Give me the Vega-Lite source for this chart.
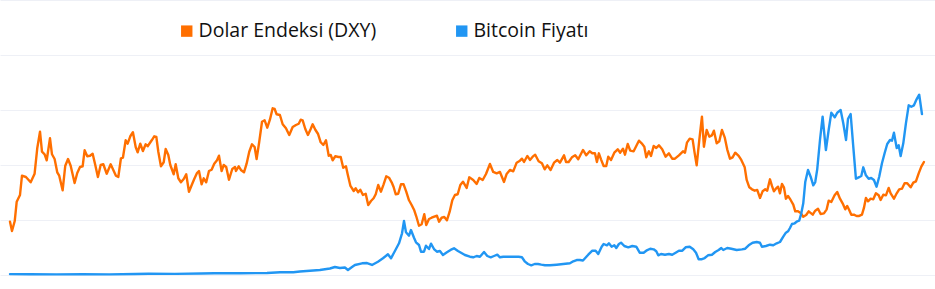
{
  "$schema": "https://vega.github.io/schema/vega-lite/v6.json",
  "width": 935,
  "height": 275,
  "autosize": {"type": "none"},
  "padding": {"top": 0, "left": 0, "right": 0, "bottom": 14},
  "background": "#ffffff",
  "config": {"view": {"stroke": null}},
  "datasets": {
    "dxy": [
      {"yil": 2014.947, "dxy": 88.66}, {"yil": 2014.962, "dxy": 87.5}, {"yil": 2014.983, "dxy": 88.75}, {"yil": 2014.998, "dxy": 91.16},
      {"yil": 2015.023, "dxy": 92.0}, {"yil": 2015.038, "dxy": 94.41}, {"yil": 2015.068, "dxy": 94.25}, {"yil": 2015.104, "dxy": 93.59},
      {"yil": 2015.134, "dxy": 94.66}, {"yil": 2015.154, "dxy": 97.84}, {"yil": 2015.175, "dxy": 99.91}, {"yil": 2015.190, "dxy": 97.41},
      {"yil": 2015.210, "dxy": 97.09}, {"yil": 2015.226, "dxy": 96.34}, {"yil": 2015.251, "dxy": 99.09}, {"yil": 2015.266, "dxy": 97.09},
      {"yil": 2015.286, "dxy": 96.5}, {"yil": 2015.306, "dxy": 94.84}, {"yil": 2015.321, "dxy": 94.41}, {"yil": 2015.347, "dxy": 92.59},
      {"yil": 2015.367, "dxy": 95.66}, {"yil": 2015.388, "dxy": 96.5}, {"yil": 2015.408, "dxy": 95.66}, {"yil": 2015.438, "dxy": 93.5},
      {"yil": 2015.458, "dxy": 94.75}, {"yil": 2015.479, "dxy": 95.5}, {"yil": 2015.499, "dxy": 95.59}, {"yil": 2015.514, "dxy": 97.59},
      {"yil": 2015.534, "dxy": 96.84}, {"yil": 2015.555, "dxy": 96.91}, {"yil": 2015.575, "dxy": 97.16}, {"yil": 2015.595, "dxy": 95.75},
      {"yil": 2015.615, "dxy": 94.25}, {"yil": 2015.636, "dxy": 95.75}, {"yil": 2015.656, "dxy": 95.84}, {"yil": 2015.682, "dxy": 94.66},
      {"yil": 2015.712, "dxy": 95.84}, {"yil": 2015.752, "dxy": 94.41}, {"yil": 2015.770, "dxy": 94.25}, {"yil": 2015.790, "dxy": 96.59},
      {"yil": 2015.805, "dxy": 96.66}, {"yil": 2015.826, "dxy": 98.84}, {"yil": 2015.841, "dxy": 98.41}, {"yil": 2015.861, "dxy": 99.34},
      {"yil": 2015.881, "dxy": 99.84}, {"yil": 2015.902, "dxy": 98.0}, {"yil": 2015.917, "dxy": 97.34}, {"yil": 2015.937, "dxy": 98.41},
      {"yil": 2015.957, "dxy": 97.5}, {"yil": 2015.978, "dxy": 98.34}, {"yil": 2015.993, "dxy": 98.09}, {"yil": 2016.024, "dxy": 98.84},
      {"yil": 2016.043, "dxy": 99.34}, {"yil": 2016.059, "dxy": 99.25}, {"yil": 2016.074, "dxy": 97.41}, {"yil": 2016.094, "dxy": 95.59},
      {"yil": 2016.115, "dxy": 96.09}, {"yil": 2016.130, "dxy": 97.75}, {"yil": 2016.150, "dxy": 97.0}, {"yil": 2016.165, "dxy": 95.75},
      {"yil": 2016.191, "dxy": 94.59}, {"yil": 2016.206, "dxy": 95.84}, {"yil": 2016.226, "dxy": 94.09}, {"yil": 2016.246, "dxy": 93.59},
      {"yil": 2016.267, "dxy": 94.0}, {"yil": 2016.286, "dxy": 94.59}, {"yil": 2016.307, "dxy": 92.41}, {"yil": 2016.328, "dxy": 93.25},
      {"yil": 2016.347, "dxy": 94.0}, {"yil": 2016.368, "dxy": 94.75}, {"yil": 2016.383, "dxy": 95.0}, {"yil": 2016.403, "dxy": 93.34},
      {"yil": 2016.419, "dxy": 94.09}, {"yil": 2016.438, "dxy": 93.59}, {"yil": 2016.459, "dxy": 95.0}, {"yil": 2016.479, "dxy": 95.16},
      {"yil": 2016.499, "dxy": 95.91}, {"yil": 2016.520, "dxy": 96.34}, {"yil": 2016.535, "dxy": 96.91}, {"yil": 2016.555, "dxy": 95.0},
      {"yil": 2016.571, "dxy": 95.75}, {"yil": 2016.590, "dxy": 95.5}, {"yil": 2016.611, "dxy": 93.91}, {"yil": 2016.636, "dxy": 95.25},
      {"yil": 2016.657, "dxy": 95.5}, {"yil": 2016.664, "dxy": 95.0}, {"yil": 2016.685, "dxy": 95.59}, {"yil": 2016.704, "dxy": 95.09},
      {"yil": 2016.725, "dxy": 94.84}, {"yil": 2016.745, "dxy": 95.91}, {"yil": 2016.765, "dxy": 97.41}, {"yil": 2016.786, "dxy": 98.34},
      {"yil": 2016.806, "dxy": 98.0}, {"yil": 2016.821, "dxy": 96.5}, {"yil": 2016.841, "dxy": 98.66}, {"yil": 2016.862, "dxy": 101.16},
      {"yil": 2016.882, "dxy": 101.34}, {"yil": 2016.902, "dxy": 100.41}, {"yil": 2016.922, "dxy": 101.41}, {"yil": 2016.943, "dxy": 102.84},
      {"yil": 2016.958, "dxy": 102.75}, {"yil": 2016.973, "dxy": 102.09}, {"yil": 2016.998, "dxy": 102.0}, {"yil": 2017.019, "dxy": 100.84},
      {"yil": 2017.044, "dxy": 100.34}, {"yil": 2017.069, "dxy": 99.5}, {"yil": 2017.095, "dxy": 100.5}, {"yil": 2017.120, "dxy": 100.75},
      {"yil": 2017.141, "dxy": 100.91}, {"yil": 2017.156, "dxy": 101.41}, {"yil": 2017.171, "dxy": 101.34}, {"yil": 2017.191, "dxy": 100.25},
      {"yil": 2017.211, "dxy": 99.5}, {"yil": 2017.232, "dxy": 100.25}, {"yil": 2017.247, "dxy": 100.84}, {"yil": 2017.267, "dxy": 100.16},
      {"yil": 2017.287, "dxy": 99.66}, {"yil": 2017.308, "dxy": 98.59}, {"yil": 2017.328, "dxy": 98.25}, {"yil": 2017.348, "dxy": 98.84},
      {"yil": 2017.369, "dxy": 96.91}, {"yil": 2017.384, "dxy": 97.0}, {"yil": 2017.399, "dxy": 96.34}, {"yil": 2017.419, "dxy": 96.84},
      {"yil": 2017.444, "dxy": 96.75}, {"yil": 2017.460, "dxy": 96.75}, {"yil": 2017.479, "dxy": 95.41}, {"yil": 2017.500, "dxy": 95.59},
      {"yil": 2017.513, "dxy": 94.59}, {"yil": 2017.534, "dxy": 93.13}, {"yil": 2017.559, "dxy": 92.5}, {"yil": 2017.574, "dxy": 92.84},
      {"yil": 2017.593, "dxy": 92.34}, {"yil": 2017.609, "dxy": 92.66}, {"yil": 2017.629, "dxy": 92.0}, {"yil": 2017.650, "dxy": 92.16},
      {"yil": 2017.669, "dxy": 90.75}, {"yil": 2017.690, "dxy": 91.25}, {"yil": 2017.710, "dxy": 91.59}, {"yil": 2017.726, "dxy": 92.09},
      {"yil": 2017.745, "dxy": 93.25}, {"yil": 2017.766, "dxy": 92.41}, {"yil": 2017.786, "dxy": 93.34}, {"yil": 2017.806, "dxy": 94.34},
      {"yil": 2017.827, "dxy": 94.16}, {"yil": 2017.847, "dxy": 93.59}, {"yil": 2017.862, "dxy": 93.0}, {"yil": 2017.878, "dxy": 92.09},
      {"yil": 2017.897, "dxy": 92.16}, {"yil": 2017.918, "dxy": 93.34}, {"yil": 2017.938, "dxy": 93.34}, {"yil": 2017.958, "dxy": 92.41},
      {"yil": 2017.979, "dxy": 91.34}, {"yil": 2017.999, "dxy": 90.75}, {"yil": 2018.019, "dxy": 90.09}, {"yil": 2018.034, "dxy": 89.34},
      {"yil": 2018.055, "dxy": 88.16}, {"yil": 2018.075, "dxy": 88.34}, {"yil": 2018.095, "dxy": 89.59}, {"yil": 2018.110, "dxy": 88.25},
      {"yil": 2018.131, "dxy": 89.0}, {"yil": 2018.151, "dxy": 89.16}, {"yil": 2018.176, "dxy": 89.34}, {"yil": 2018.191, "dxy": 89.41},
      {"yil": 2018.207, "dxy": 88.66}, {"yil": 2018.227, "dxy": 89.16}, {"yil": 2018.247, "dxy": 89.25}, {"yil": 2018.267, "dxy": 88.84},
      {"yil": 2018.288, "dxy": 89.91}, {"yil": 2018.308, "dxy": 91.34}, {"yil": 2018.328, "dxy": 92.0}, {"yil": 2018.349, "dxy": 92.09},
      {"yil": 2018.369, "dxy": 93.25}, {"yil": 2018.389, "dxy": 93.66}, {"yil": 2018.417, "dxy": 92.88}, {"yil": 2018.437, "dxy": 94.21},
      {"yil": 2018.467, "dxy": 93.88}, {"yil": 2018.493, "dxy": 93.38}, {"yil": 2018.513, "dxy": 94.13}, {"yil": 2018.539, "dxy": 93.88},
      {"yil": 2018.564, "dxy": 94.63}, {"yil": 2018.594, "dxy": 95.88}, {"yil": 2018.619, "dxy": 94.88}, {"yil": 2018.645, "dxy": 94.71},
      {"yil": 2018.670, "dxy": 94.88}, {"yil": 2018.701, "dxy": 93.63}, {"yil": 2018.721, "dxy": 94.63}, {"yil": 2018.746, "dxy": 95.13},
      {"yil": 2018.771, "dxy": 94.96}, {"yil": 2018.797, "dxy": 96.04}, {"yil": 2018.822, "dxy": 96.29}, {"yil": 2018.837, "dxy": 96.54},
      {"yil": 2018.853, "dxy": 96.13}, {"yil": 2018.878, "dxy": 96.88}, {"yil": 2018.898, "dxy": 96.38}, {"yil": 2018.919, "dxy": 96.79},
      {"yil": 2018.938, "dxy": 97.04}, {"yil": 2018.964, "dxy": 96.21}, {"yil": 2018.989, "dxy": 95.96}, {"yil": 2019.010, "dxy": 95.21},
      {"yil": 2019.030, "dxy": 95.71}, {"yil": 2019.055, "dxy": 95.13}, {"yil": 2019.081, "dxy": 96.04}, {"yil": 2019.106, "dxy": 96.38},
      {"yil": 2019.126, "dxy": 96.04}, {"yil": 2019.157, "dxy": 96.96}, {"yil": 2019.172, "dxy": 96.13}, {"yil": 2019.192, "dxy": 96.13},
      {"yil": 2019.217, "dxy": 96.71}, {"yil": 2019.242, "dxy": 96.96}, {"yil": 2019.265, "dxy": 96.46}, {"yil": 2019.301, "dxy": 97.63},
      {"yil": 2019.326, "dxy": 96.96}, {"yil": 2019.352, "dxy": 97.46}, {"yil": 2019.372, "dxy": 97.21}, {"yil": 2019.392, "dxy": 97.21},
      {"yil": 2019.407, "dxy": 96.13}, {"yil": 2019.422, "dxy": 97.21}, {"yil": 2019.438, "dxy": 96.46}, {"yil": 2019.458, "dxy": 95.63},
      {"yil": 2019.478, "dxy": 95.63}, {"yil": 2019.493, "dxy": 96.79}, {"yil": 2019.514, "dxy": 96.38}, {"yil": 2019.539, "dxy": 97.29},
      {"yil": 2019.565, "dxy": 97.71}, {"yil": 2019.584, "dxy": 97.29}, {"yil": 2019.605, "dxy": 97.79}, {"yil": 2019.620, "dxy": 97.04},
      {"yil": 2019.641, "dxy": 98.38}, {"yil": 2019.660, "dxy": 97.54}, {"yil": 2019.686, "dxy": 97.46}, {"yil": 2019.706, "dxy": 98.13},
      {"yil": 2019.726, "dxy": 98.79}, {"yil": 2019.747, "dxy": 98.46}, {"yil": 2019.767, "dxy": 98.04}, {"yil": 2019.782, "dxy": 96.71},
      {"yil": 2019.802, "dxy": 97.46}, {"yil": 2019.818, "dxy": 96.88}, {"yil": 2019.838, "dxy": 98.13}, {"yil": 2019.858, "dxy": 97.88},
      {"yil": 2019.878, "dxy": 98.21}, {"yil": 2019.903, "dxy": 97.71}, {"yil": 2019.929, "dxy": 96.79}, {"yil": 2019.954, "dxy": 97.21},
      {"yil": 2019.979, "dxy": 96.54}, {"yil": 2020.000, "dxy": 96.54}, {"yil": 2020.030, "dxy": 96.96}, {"yil": 2020.061, "dxy": 97.46},
      {"yil": 2020.076, "dxy": 97.29}, {"yil": 2020.091, "dxy": 98.54}, {"yil": 2020.112, "dxy": 99.04}, {"yil": 2020.134, "dxy": 98.96},
      {"yil": 2020.150, "dxy": 97.21}, {"yil": 2020.165, "dxy": 95.71}, {"yil": 2020.185, "dxy": 98.88}, {"yil": 2020.205, "dxy": 101.79},
      {"yil": 2020.220, "dxy": 98.04}, {"yil": 2020.241, "dxy": 100.13}, {"yil": 2020.261, "dxy": 99.29}, {"yil": 2020.281, "dxy": 99.46},
      {"yil": 2020.296, "dxy": 100.04}, {"yil": 2020.317, "dxy": 98.46}, {"yil": 2020.337, "dxy": 98.71}, {"yil": 2020.357, "dxy": 100.13},
      {"yil": 2020.378, "dxy": 99.21}, {"yil": 2020.397, "dxy": 97.71}, {"yil": 2020.418, "dxy": 96.54}, {"yil": 2020.438, "dxy": 96.71},
      {"yil": 2020.458, "dxy": 97.29}, {"yil": 2020.484, "dxy": 96.88}, {"yil": 2020.504, "dxy": 96.38}, {"yil": 2020.530, "dxy": 95.46},
      {"yil": 2020.545, "dxy": 93.88}, {"yil": 2020.565, "dxy": 92.96}, {"yil": 2020.585, "dxy": 92.71}, {"yil": 2020.606, "dxy": 92.54},
      {"yil": 2020.625, "dxy": 92.63}, {"yil": 2020.646, "dxy": 91.63}, {"yil": 2020.666, "dxy": 92.46}, {"yil": 2020.686, "dxy": 92.71},
      {"yil": 2020.701, "dxy": 92.54}, {"yil": 2020.722, "dxy": 93.96}, {"yil": 2020.737, "dxy": 93.13}, {"yil": 2020.752, "dxy": 92.46},
      {"yil": 2020.767, "dxy": 92.79}, {"yil": 2020.783, "dxy": 93.04}, {"yil": 2020.798, "dxy": 92.21}, {"yil": 2020.813, "dxy": 93.38},
      {"yil": 2020.828, "dxy": 92.96}, {"yil": 2020.843, "dxy": 91.54}, {"yil": 2020.859, "dxy": 91.88}, {"yil": 2020.879, "dxy": 91.38},
      {"yil": 2020.899, "dxy": 90.79}, {"yil": 2020.914, "dxy": 89.96}, {"yil": 2020.935, "dxy": 89.96}, {"yil": 2020.955, "dxy": 89.75},
      {"yil": 2020.975, "dxy": 89.29}, {"yil": 2020.997, "dxy": 89.5}, {"yil": 2021.016, "dxy": 89.96}, {"yil": 2021.047, "dxy": 89.54},
      {"yil": 2021.066, "dxy": 90.04}, {"yil": 2021.087, "dxy": 90.29}, {"yil": 2021.107, "dxy": 89.63}, {"yil": 2021.132, "dxy": 89.71},
      {"yil": 2021.153, "dxy": 90.21}, {"yil": 2021.168, "dxy": 91.29}, {"yil": 2021.188, "dxy": 91.13}, {"yil": 2021.213, "dxy": 91.96},
      {"yil": 2021.233, "dxy": 92.38}, {"yil": 2021.254, "dxy": 91.54}, {"yil": 2021.274, "dxy": 90.96}, {"yil": 2021.294, "dxy": 90.21},
      {"yil": 2021.309, "dxy": 90.63}, {"yil": 2021.324, "dxy": 90.13}, {"yil": 2021.340, "dxy": 89.54}, {"yil": 2021.360, "dxy": 89.54},
      {"yil": 2021.380, "dxy": 89.38}, {"yil": 2021.400, "dxy": 89.38}, {"yil": 2021.421, "dxy": 89.54}, {"yil": 2021.436, "dxy": 90.38},
      {"yil": 2021.451, "dxy": 91.63}, {"yil": 2021.467, "dxy": 91.21}, {"yil": 2021.487, "dxy": 91.54}, {"yil": 2021.507, "dxy": 91.46},
      {"yil": 2021.527, "dxy": 92.21}, {"yil": 2021.548, "dxy": 91.96}, {"yil": 2021.563, "dxy": 91.38}, {"yil": 2021.583, "dxy": 92.04},
      {"yil": 2021.603, "dxy": 91.96}, {"yil": 2021.624, "dxy": 92.88}, {"yil": 2021.639, "dxy": 92.21}, {"yil": 2021.664, "dxy": 91.54},
      {"yil": 2021.685, "dxy": 92.21}, {"yil": 2021.704, "dxy": 92.71}, {"yil": 2021.725, "dxy": 92.79}, {"yil": 2021.745, "dxy": 93.46},
      {"yil": 2021.765, "dxy": 93.46}, {"yil": 2021.791, "dxy": 92.96}, {"yil": 2021.811, "dxy": 93.54}, {"yil": 2021.831, "dxy": 93.71},
      {"yil": 2021.852, "dxy": 94.71}, {"yil": 2021.872, "dxy": 95.54}, {"yil": 2021.892, "dxy": 96.13}
    ],
    "btc": [
      {"yil": 2014.947, "btc": 330}, {"yil": 2015.1, "btc": 260}, {"yil": 2015.3, "btc": 230}, {"yil": 2015.5, "btc": 270},
      {"yil": 2015.7, "btc": 240}, {"yil": 2015.9, "btc": 380}, {"yil": 2016.0, "btc": 430}, {"yil": 2016.2, "btc": 420},
      {"yil": 2016.4, "btc": 530}, {"yil": 2016.5, "btc": 650}, {"yil": 2016.7, "btc": 610}, {"yil": 2016.9, "btc": 740},
      {"yil": 2017.0, "btc": 980}, {"yil": 2017.1, "btc": 1000}, {"yil": 2017.15, "btc": 1270}, {"yil": 2017.226, "btc": 1560},
      {"yil": 2017.302, "btc": 1820}, {"yil": 2017.378, "btc": 2360}, {"yil": 2017.416, "btc": 2900}, {"yil": 2017.454, "btc": 2550},
      {"yil": 2017.492, "btc": 2730}, {"yil": 2017.515, "btc": 1820}, {"yil": 2017.546, "btc": 2900}, {"yil": 2017.568, "btc": 3640},
      {"yil": 2017.622, "btc": 4250}, {"yil": 2017.66, "btc": 4360}, {"yil": 2017.698, "btc": 3640}, {"yil": 2017.743, "btc": 4840},
      {"yil": 2017.781, "btc": 6070}, {"yil": 2017.819, "btc": 7530}, {"yil": 2017.842, "btc": 6070}, {"yil": 2017.872, "btc": 8730},
      {"yil": 2017.903, "btc": 11530}, {"yil": 2017.926, "btc": 15160}, {"yil": 2017.941, "btc": 19630}, {"yil": 2017.956, "btc": 15530},
      {"yil": 2017.979, "btc": 14290}, {"yil": 2017.994, "btc": 16360}, {"yil": 2018.017, "btc": 13560}, {"yil": 2018.032, "btc": 11890},
      {"yil": 2018.055, "btc": 10910}, {"yil": 2018.07, "btc": 8470}, {"yil": 2018.093, "btc": 8470}, {"yil": 2018.108, "btc": 10650},
      {"yil": 2018.131, "btc": 9450}, {"yil": 2018.146, "btc": 11380}, {"yil": 2018.169, "btc": 9450}, {"yil": 2018.191, "btc": 8470},
      {"yil": 2018.214, "btc": 8730}, {"yil": 2018.237, "btc": 7270}, {"yil": 2018.267, "btc": 8250}, {"yil": 2018.298, "btc": 9200},
      {"yil": 2018.321, "btc": 9710}, {"yil": 2018.351, "btc": 8730}, {"yil": 2018.381, "btc": 7890}, {"yil": 2018.404, "btc": 7270},
      {"yil": 2018.442, "btc": 6650}, {"yil": 2018.467, "btc": 6440}, {"yil": 2018.493, "btc": 6910}, {"yil": 2018.518, "btc": 6650},
      {"yil": 2018.549, "btc": 8360}, {"yil": 2018.574, "btc": 6910}, {"yil": 2018.6, "btc": 6440}, {"yil": 2018.625, "btc": 6910},
      {"yil": 2018.65, "btc": 7380}, {"yil": 2018.67, "btc": 6440}, {"yil": 2018.695, "btc": 6650}, {"yil": 2018.746, "btc": 6650},
      {"yil": 2018.812, "btc": 6650}, {"yil": 2018.837, "btc": 6440}, {"yil": 2018.858, "btc": 4980}, {"yil": 2018.883, "btc": 4000},
      {"yil": 2018.908, "btc": 3530}, {"yil": 2018.934, "btc": 4000}, {"yil": 2018.959, "btc": 4000}, {"yil": 2018.984, "btc": 3750},
      {"yil": 2019.012, "btc": 3530}, {"yil": 2019.05, "btc": 3530}, {"yil": 2019.101, "btc": 3750}, {"yil": 2019.151, "btc": 4000},
      {"yil": 2019.202, "btc": 4250}, {"yil": 2019.227, "btc": 4980}, {"yil": 2019.253, "btc": 5450}, {"yil": 2019.278, "btc": 5450},
      {"yil": 2019.301, "btc": 5270}, {"yil": 2019.341, "btc": 7380}, {"yil": 2019.372, "btc": 8840}, {"yil": 2019.397, "btc": 8840},
      {"yil": 2019.417, "btc": 7640}, {"yil": 2019.443, "btc": 10290}, {"yil": 2019.458, "btc": 11270}, {"yil": 2019.483, "btc": 10800},
      {"yil": 2019.498, "btc": 11530}, {"yil": 2019.519, "btc": 10290}, {"yil": 2019.539, "btc": 10800}, {"yil": 2019.554, "btc": 9820},
      {"yil": 2019.574, "btc": 11270}, {"yil": 2019.59, "btc": 11740}, {"yil": 2019.615, "btc": 10540}, {"yil": 2019.645, "btc": 10070},
      {"yil": 2019.676, "btc": 10540}, {"yil": 2019.706, "btc": 10290}, {"yil": 2019.732, "btc": 8110}, {"yil": 2019.762, "btc": 8110},
      {"yil": 2019.782, "btc": 8840}, {"yil": 2019.812, "btc": 9560}, {"yil": 2019.838, "btc": 9340}, {"yil": 2019.858, "btc": 8620},
      {"yil": 2019.873, "btc": 7160}, {"yil": 2019.894, "btc": 7640}, {"yil": 2019.924, "btc": 7380}, {"yil": 2019.954, "btc": 7640},
      {"yil": 2019.979, "btc": 7380}, {"yil": 2020.005, "btc": 8110}, {"yil": 2020.03, "btc": 8840}, {"yil": 2020.056, "btc": 8840},
      {"yil": 2020.081, "btc": 10070}, {"yil": 2020.112, "btc": 10290}, {"yil": 2020.139, "btc": 9340}, {"yil": 2020.16, "btc": 8110},
      {"yil": 2020.18, "btc": 5710}, {"yil": 2020.2, "btc": 5710}, {"yil": 2020.226, "btc": 6180}, {"yil": 2020.251, "btc": 7160},
      {"yil": 2020.281, "btc": 7380}, {"yil": 2020.306, "btc": 8360}, {"yil": 2020.332, "btc": 9090}, {"yil": 2020.352, "btc": 9820},
      {"yil": 2020.367, "btc": 9090}, {"yil": 2020.397, "btc": 9820}, {"yil": 2020.428, "btc": 9560}, {"yil": 2020.469, "btc": 9090},
      {"yil": 2020.509, "btc": 9340}, {"yil": 2020.534, "btc": 9560}, {"yil": 2020.56, "btc": 10800}, {"yil": 2020.59, "btc": 11740},
      {"yil": 2020.621, "btc": 12000}, {"yil": 2020.646, "btc": 11740}, {"yil": 2020.661, "btc": 10290}, {"yil": 2020.691, "btc": 10540},
      {"yil": 2020.722, "btc": 11020}, {"yil": 2020.747, "btc": 10800}, {"yil": 2020.773, "btc": 11530}, {"yil": 2020.798, "btc": 12000},
      {"yil": 2020.823, "btc": 13930}, {"yil": 2020.843, "btc": 15380}, {"yil": 2020.859, "btc": 15890}, {"yil": 2020.874, "btc": 17090},
      {"yil": 2020.889, "btc": 18540}, {"yil": 2020.91, "btc": 18800}, {"yil": 2020.929, "btc": 19530}, {"yil": 2020.944, "btc": 19740},
      {"yil": 2020.96, "btc": 22430}, {"yil": 2020.975, "btc": 26070}, {"yil": 2020.99, "btc": 33810}, {"yil": 2021.011, "btc": 38180},
      {"yil": 2021.031, "btc": 35740}, {"yil": 2021.051, "btc": 32620}, {"yil": 2021.066, "btc": 33810}, {"yil": 2021.081, "btc": 38430},
      {"yil": 2021.102, "btc": 49090}, {"yil": 2021.122, "btc": 57560}, {"yil": 2021.147, "btc": 45450}, {"yil": 2021.168, "btc": 52720},
      {"yil": 2021.188, "btc": 59010}, {"yil": 2021.214, "btc": 57340}, {"yil": 2021.233, "btc": 59010}, {"yil": 2021.259, "btc": 59990},
      {"yil": 2021.279, "btc": 55160}, {"yil": 2021.3, "btc": 49090}, {"yil": 2021.315, "btc": 56830}, {"yil": 2021.335, "btc": 58540},
      {"yil": 2021.355, "btc": 46650}, {"yil": 2021.375, "btc": 35010}, {"yil": 2021.396, "btc": 35520}, {"yil": 2021.416, "btc": 36000},
      {"yil": 2021.431, "btc": 39160}, {"yil": 2021.451, "btc": 36250}, {"yil": 2021.472, "btc": 35010}, {"yil": 2021.491, "btc": 35270},
      {"yil": 2021.512, "btc": 34540}, {"yil": 2021.532, "btc": 32110}, {"yil": 2021.552, "btc": 35740}, {"yil": 2021.573, "btc": 40620},
      {"yil": 2021.593, "btc": 44250}, {"yil": 2021.613, "btc": 47630}, {"yil": 2021.634, "btc": 49090}, {"yil": 2021.649, "btc": 48830},
      {"yil": 2021.664, "btc": 51740}, {"yil": 2021.685, "btc": 46180}, {"yil": 2021.7, "btc": 47160}, {"yil": 2021.715, "btc": 43270},
      {"yil": 2021.735, "btc": 47890}, {"yil": 2021.755, "btc": 55160}, {"yil": 2021.776, "btc": 61700}, {"yil": 2021.796, "btc": 61190},
      {"yil": 2021.816, "btc": 61700}, {"yil": 2021.836, "btc": 63890}, {"yil": 2021.856, "btc": 65560}, {"yil": 2021.877, "btc": 58540}
    ]
  },
  "layer": [
    {
      "data": {"name": "dxy"},
      "mark": {"type": "line", "strokeWidth": 2.4, "strokeJoin": "round", "strokeCap": "round"},
      "encoding": {
        "x": {
          "field": "yil", "type": "quantitative",
          "scale": {"domain": [2014.871, 2021.976], "nice": false, "zero": false},
          "axis": {
            "values": [2015, 2016, 2017, 2018, 2019, 2020, 2021],
            "grid": true, "gridColor": "#eef0f6", "gridWidth": 1,
            "labels": false, "domain": false, "ticks": true,
            "tickSize": 14, "tickColor": "#eef0f6", "tickWidth": 1,
            "title": null, "minExtent": 0, "maxExtent": 14
          }
        },
        "y": {
          "field": "dxy", "type": "quantitative",
          "scale": {"domain": [82, 116.375], "nice": false, "zero": false},
          "axis": null
        },
        "color": {
          "datum": "Dolar Endeksi (DXY)",
          "scale": {"domain": ["Dolar Endeksi (DXY)", "Bitcoin Fiyatı"], "range": ["#ff6f00", "#2196f3"]},
          "legend": {
            "title": null, "orient": "none", "legendX": 177, "legendY": 21,
            "direction": "horizontal", "symbolType": "square", "symbolSize": 130,
            "symbolStrokeWidth": 0, "symbolOpacity": 1, "labelFont": "Open Sans", "labelFontSize": 19.5,
            "labelColor": "#111111", "labelOffset": 2, "columnPadding": 75, "padding": 0, "labelLimit": 400,
            "encode": {"symbols": {"update": {"fill": {"scale": "color", "field": "value"}, "fillOpacity": {"value": 1}}}}
          }
        }
      }
    },
    {
      "data": {"name": "btc"},
      "mark": {"type": "line", "strokeWidth": 2.4, "strokeJoin": "round", "strokeCap": "round"},
      "encoding": {
        "x": {"field": "yil", "type": "quantitative", "axis": null},
        "y": {
          "field": "btc", "type": "quantitative",
          "scale": {"domain": [0, 100000], "nice": false},
          "axis": {
            "values": [0, 20000, 40000, 60000, 80000, 100000],
            "grid": true, "gridColor": "#eef0f6", "gridWidth": 1,
            "labels": false, "domain": false, "ticks": false, "title": null,
            "minExtent": 0, "maxExtent": 0
          }
        },
        "color": {"datum": "Bitcoin Fiyatı"}
      }
    }
  ],
  "resolve": {"scale": {"y": "independent"}}
}
